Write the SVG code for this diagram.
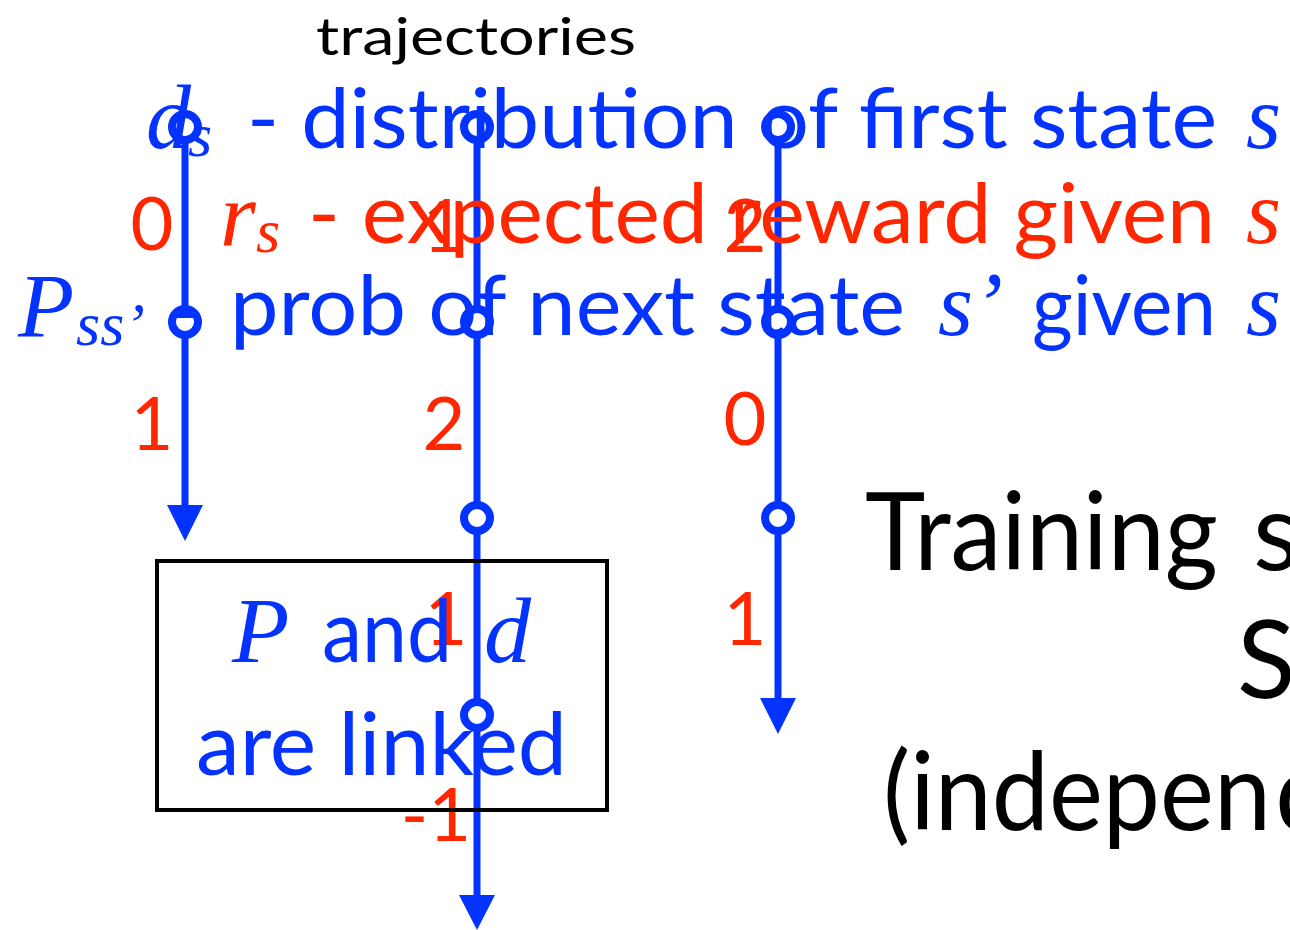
<svg xmlns="http://www.w3.org/2000/svg" width="1290" height="930" viewBox="0 0 1290 930">
<defs>
<style>
.sans{font-family:Lato,"Open Sans","Liberation Sans",sans-serif}
.ser{font-family:"Liberation Serif","DejaVu Serif",serif;font-style:italic}
.blue{fill:#0433ff}
.red{fill:#ff2600}
.blk{fill:#000}
.traj{stroke:#0433ff;stroke-width:7;fill:none}
.node{stroke:#0433ff;stroke-width:8;fill:#fff}
.num{font-family:Lato,"Open Sans","Liberation Sans",sans-serif;font-size:74px;fill:#ff2600;text-anchor:middle}
</style>
</defs>
<rect width="1290" height="930" fill="#fff"/>

<g id="title">
<text class="sans blk" x="316" y="55" font-size="52" textLength="320" lengthAdjust="spacingAndGlyphs">trajectories</text>
</g>

<g id="connectors">
<line class="traj" x1="185" y1="127" x2="185" y2="505"/>
<path d="M167,505 L203,505 L185,541 z" fill="#0433ff"/>
<line class="traj" x1="477" y1="127" x2="477" y2="895"/>
<path d="M459,895 L495,895 L477,930 z" fill="#0433ff"/>
<line class="traj" x1="778" y1="127" x2="778" y2="698"/>
<path d="M760,698 L796,698 L778,734 z" fill="#0433ff"/>
</g>

<g id="nodes">
<circle class="node" cx="185" cy="127" r="13"/>
<circle class="node" cx="185" cy="322" r="13"/>
<circle class="node" cx="477" cy="127" r="13"/>
<circle class="node" cx="477" cy="322" r="13"/>
<circle class="node" cx="477" cy="518" r="13"/>
<circle class="node" cx="477" cy="715" r="13"/>
<circle class="node" cx="778" cy="127" r="13"/>
<circle class="node" cx="778" cy="322" r="13"/>
<circle class="node" cx="778" cy="518" r="13"/>
</g>

<g id="rewards">
<text class="num" x="152" y="250">0</text>
<text class="num" x="152" y="450">1</text>
<text class="num" x="444" y="252">1</text>
<text class="num" x="444" y="450">2</text>
<text class="num" x="446" y="645">1</text>
<text class="num" x="436" y="841">-1</text>
<text class="num" x="745" y="252">2</text>
<text class="num" x="745" y="445">0</text>
<text class="num" x="745" y="645">1</text>
</g>

<g id="legend-d">
<text class="ser blue" x="146" y="148" font-size="90">d</text>
<text class="ser blue" x="188" y="156" font-size="62">s</text>
<text class="sans blue" x="247" y="148" font-size="84" textLength="970" lengthAdjust="spacingAndGlyphs">- distribution of first state</text>
<text class="ser blue" x="1246" y="148" font-size="90">s</text>
</g>

<g id="legend-r">
<text class="ser red" x="220" y="245" font-size="92">r</text>
<text class="ser red" x="256" y="252" font-size="62">s</text>
<text class="sans red" x="308" y="243" font-size="84" textLength="907" lengthAdjust="spacingAndGlyphs">- expected reward given</text>
<text class="ser red" x="1246" y="243" font-size="90">s</text>
</g>

<g id="legend-p">
<text class="ser blue" x="18" y="337" font-size="92">P</text>
<text class="ser blue" x="76" y="345" font-size="62">ss’</text>
<text class="sans blue" x="173" y="340" font-size="84" textLength="24" lengthAdjust="spacingAndGlyphs">-</text>
<text class="sans blue" x="230" y="335" font-size="84" textLength="675" lengthAdjust="spacingAndGlyphs">prob of next state</text>
<text class="ser blue" x="938" y="335" font-size="90">s’</text>
<text class="sans blue" x="1032" y="335" font-size="84" textLength="184" lengthAdjust="spacingAndGlyphs">given</text>
<text class="ser blue" x="1246" y="335" font-size="90">s</text>
</g>

<g id="note">
<rect x="157" y="561" width="450" height="249" fill="none" stroke="#000" stroke-width="4"/>
<text class="ser blue" x="232" y="662" font-size="94">P</text>
<text class="sans blue" x="322" y="662" font-size="88" textLength="130" lengthAdjust="spacingAndGlyphs">and</text>
<text class="ser blue" x="484" y="662" font-size="94">d</text>
<text class="sans blue" x="196" y="775" font-size="88" textLength="371" lengthAdjust="spacingAndGlyphs">are linked</text>
</g>

<g id="training">
<text class="sans blk" x="865" y="570" font-size="108"><tspan textLength="353" lengthAdjust="spacingAndGlyphs">Training</tspan><tspan x="1253">s</tspan></text>
<text class="sans blk" x="1237" y="698" font-size="108">S</text>
<text class="sans blk" x="883" y="830" font-size="108"><tspan textLength="388" lengthAdjust="spacingAndGlyphs">(indepen</tspan><tspan x="1275">d</tspan></text>
</g>
</svg>
